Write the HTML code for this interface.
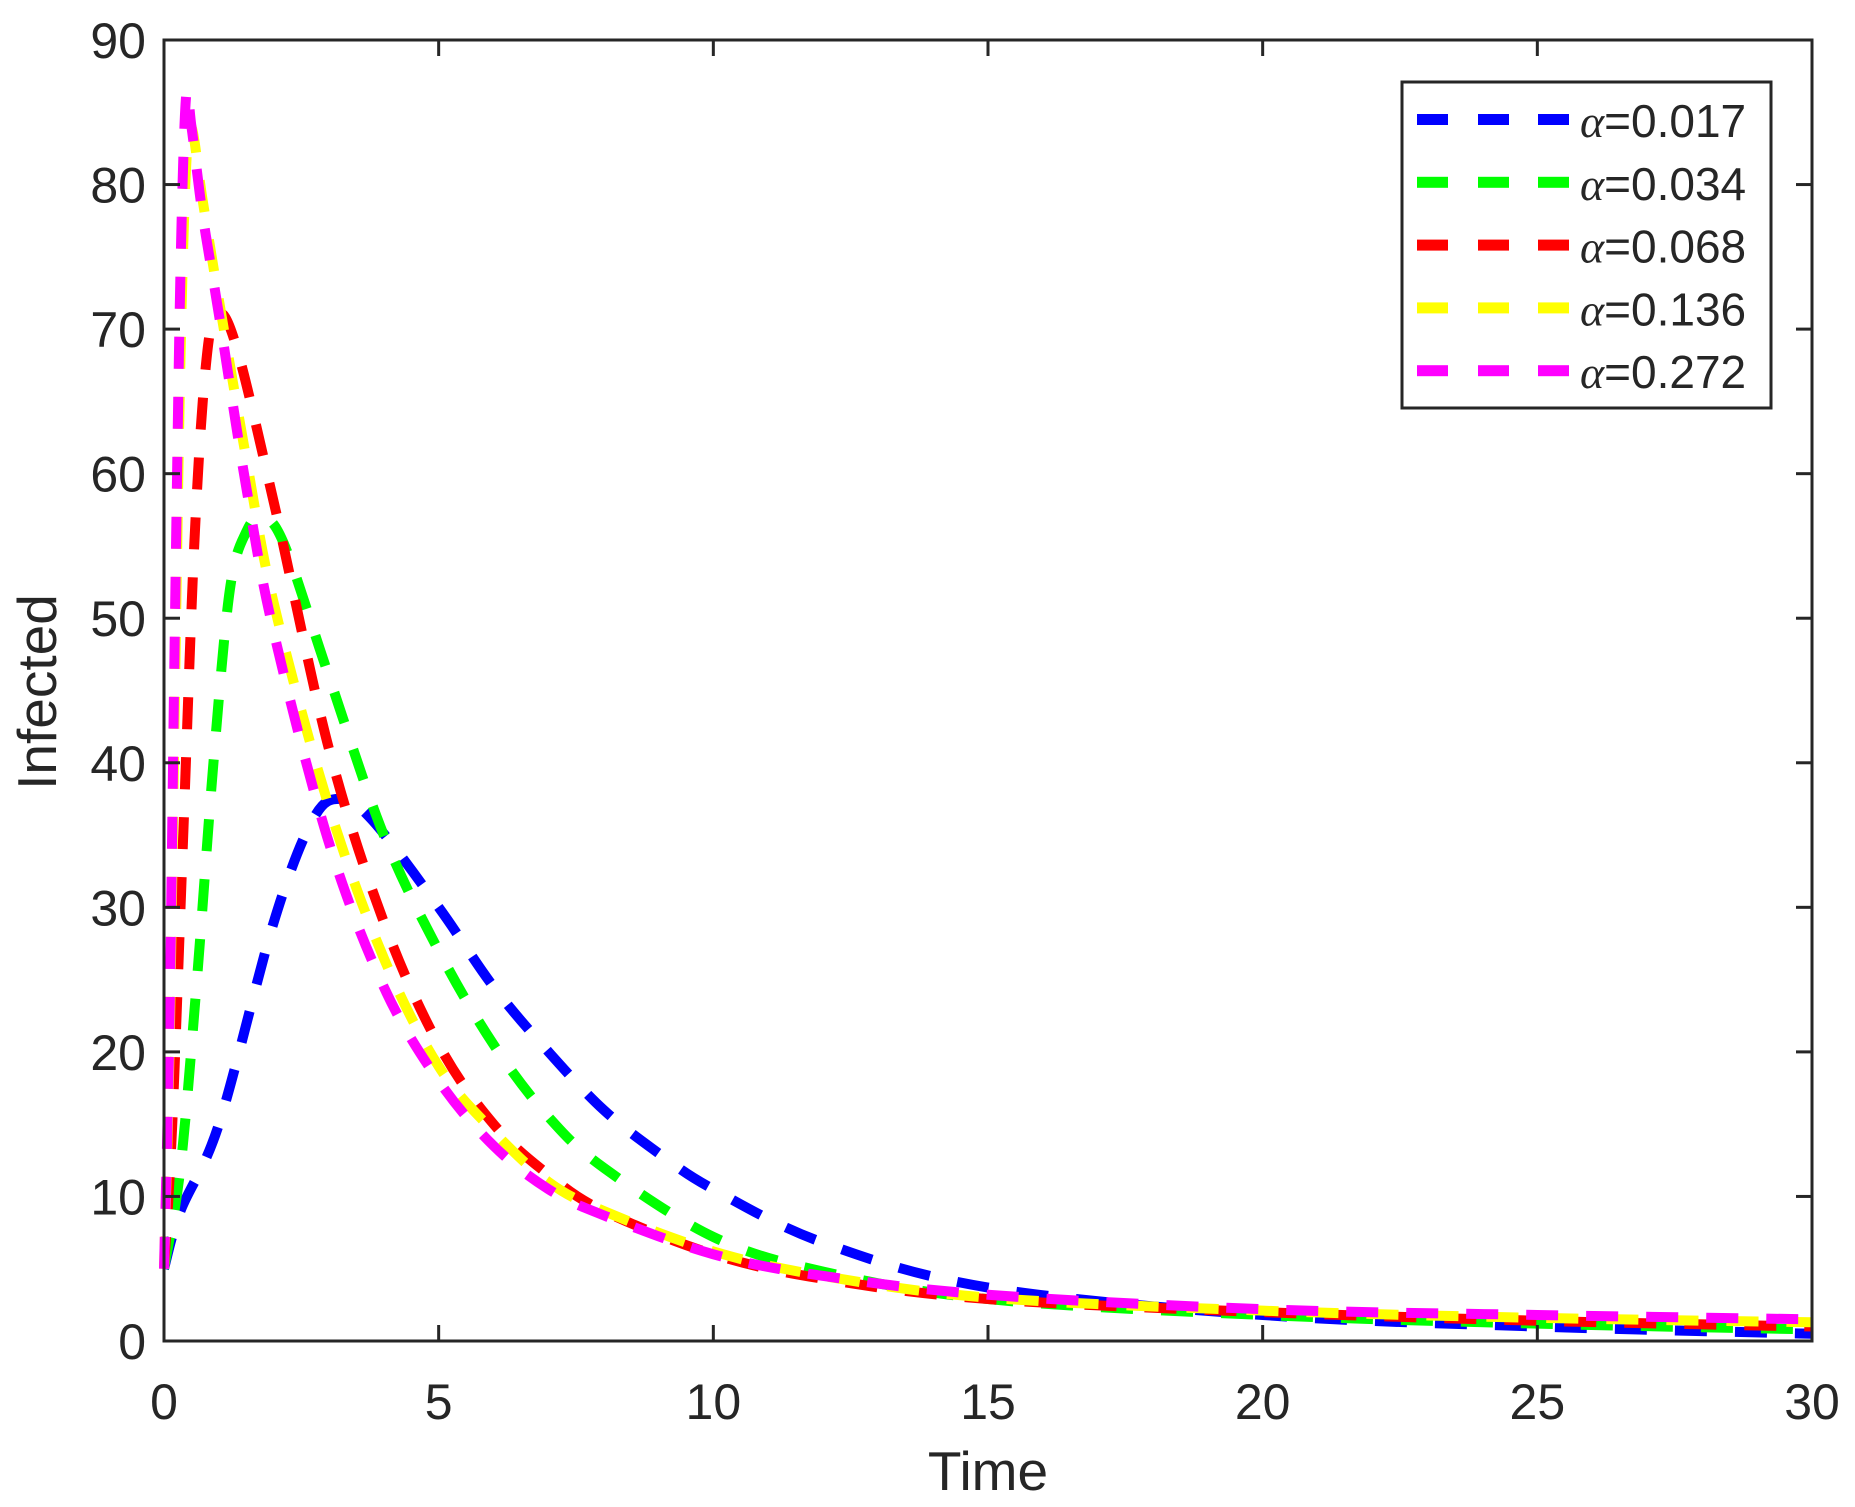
<!DOCTYPE html>
<html><head><style>body{margin:0;background:#fff}svg{display:block}text{font-family:"Liberation Sans",Arial,sans-serif;fill:#262626}</style></head>
<body>
<svg id="s" width="1855" height="1507" xmlns="http://www.w3.org/2000/svg">
<g id="curves"></g>
<g id="axes" stroke="#262626" stroke-width="3" fill="none"><rect x="164" y="40" width="1648" height="1301"/></g>
<g id="ticks" stroke="#262626" stroke-width="3"></g>
<g id="labels" font-size="50"></g>
<text x="988" y="1490" font-size="55" text-anchor="middle">Time</text>
<text transform="translate(56,692) rotate(-90)" font-size="55" text-anchor="middle">Infected</text>
<g id="legend">
<rect x="1402" y="82" width="369" height="326" fill="#fff" stroke="#262626" stroke-width="3"/>
</g>
</svg>
<script>
const X=t=>164+t*1648/30, Y=v=>1341-v*1301/90;
const ns="http://www.w3.org/2000/svg";
function el(p,tag,a,txt){const e=document.createElementNS(ns,tag);for(const k in a)e.setAttribute(k,a[k]);if(txt!=null)e.textContent=txt;document.getElementById(p).appendChild(e);return e;}
for(let i=0;i<=9;i++){const y=Y(i*10);el("ticks","line",{x1:164,y1:y,x2:180,y2:y});el("ticks","line",{x1:1812,y1:y,x2:1796,y2:y});el("labels","text",{x:146,y:y+18,"text-anchor":"end"},String(i*10));}
for(let i=0;i<=6;i++){const x=X(i*5);el("ticks","line",{x1:x,y1:1341,x2:x,y2:1325});el("ticks","line",{x1:x,y1:40,x2:x,y2:56});el("labels","text",{x:x,y:1419,"text-anchor":"middle"},String(i*5));}
const D={
"#0000ff":[[0,5],[0.3,9],[1,15],[2,29],[2.7,36],[3.2,37.5],[3.8,36],[5,30],[6,24.5],[7,20],[8,16],[9,13],[10,10.5],[12,6.8],[15,3.7],[20,1.8],[25,1],[30,0.5]],
"#00ff00":[[0,5],[0.3,12],[0.6,25],[0.9,40],[1.2,52],[1.5,56],[1.8,57],[2.2,55],[3,46],[4,35],[5,27],[6,20.5],[7,15.5],[8,12],[10,7.2],[12,4.8],[15,2.9],[20,1.8],[25,1.2],[30,0.8]],
"#ff0000":[[0,5],[0.15,15],[0.35,35],[0.55,55],[0.75,67],[0.95,71],[1.3,69],[2,58],[3,41],[4,29],[5,20.5],[6,15],[7,11.5],[8,9],[10,6],[12,4.3],[15,2.9],[20,2],[25,1.4],[30,1]],
"#ffff00":[[0,5],[0.1,20],[0.2,45],[0.3,68],[0.4,81],[0.5,84],[0.7,79],[1,72],[1.5,61],[2,51],[3,37],[4,26.5],[5,19],[6,14.5],[7,11],[8,9],[10,6.2],[12,4.5],[15,3],[20,2.1],[25,1.6],[30,1.3]],
"#ff00ff":[[0,5],[0.1,22],[0.2,50],[0.3,74],[0.4,86],[0.5,84],[0.7,78],[1,71],[1.5,59],[2,49],[3,34.5],[4,24.5],[5,18],[6,13.5],[7,10.5],[8,8.7],[10,6],[12,4.5],[15,3.2],[20,2.2],[25,1.8],[30,1.5]]};
for(const c in D){const p=D[c].map(([t,v])=>[X(t),Y(v)]);let d="M"+p[0][0]+","+p[0][1];
for(let i=0;i<p.length-1;i++){const p0=p[Math.max(0,i-1)],p1=p[i],p2=p[i+1],p3=p[Math.min(p.length-1,i+2)];
d+=` C${p1[0]+(p2[0]-p0[0])/6},${p1[1]+(p2[1]-p0[1])/6} ${p2[0]-(p3[0]-p1[0])/6},${p2[1]-(p3[1]-p1[1])/6} ${p2[0]},${p2[1]}`;}
el("curves","path",{d:d,fill:"none",stroke:c,"stroke-width":10,"stroke-dasharray":"32 28"});}
const L=[["#0000ff","0.017"],["#00ff00","0.034"],["#ff0000","0.068"],["#ffff00","0.136"],["#ff00ff","0.272"]];
L.forEach(([c,v],i)=>{const y=119+i*62.8;[1417,1478,1538].forEach(x=>el("legend","rect",{x:x,y:y-5,width:31,height:11,fill:c}));
const t=el("legend","text",{x:1580,y:y+18,"font-size":46,fill:"#000"});
const a=document.createElementNS(ns,"tspan");a.setAttribute("font-family","Liberation Serif, serif");a.setAttribute("font-style","italic");a.textContent="α";t.appendChild(a);
const b=document.createElementNS(ns,"tspan");b.textContent="="+v;t.appendChild(b);});
</script>
</body></html>
